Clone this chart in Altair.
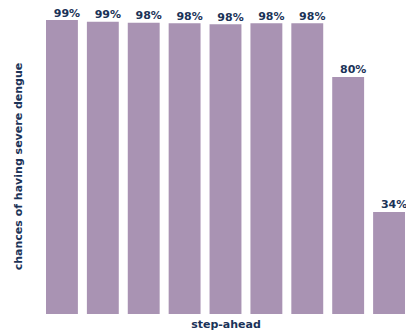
import altair as alt
import pandas as pd

steps = ["1", "2", "3", "4", "5", "6", "7", "8", "9"]
chances = [99.3, 98.7, 98.4, 98.2, 97.9, 98.2, 98.2, 80.1, 34.5]
labels = ["99%", "99%", "98%", "98%", "98%", "98%", "98%", "80%", "34%"]

df = pd.DataFrame({"step": steps, "chance": chances, "label": labels})

FONT = "DejaVu Sans"
NAVY = "#1b3358"
BAR = "#a993b3"

x = alt.X("step:N", sort=steps,
          scale=alt.Scale(paddingInner=0.22, paddingOuter=0.0),
          axis=alt.Axis(title="step-ahead", labels=False, ticks=False, domain=False,
                        titleFont=FONT, titleFontSize=11, titleFontWeight="bold",
                        titleColor=NAVY, titlePadding=4))
y = alt.Y("chance:Q", scale=alt.Scale(domain=[0, 100], nice=False),
          axis=alt.Axis(title="chances of having severe dengue", labels=False, ticks=False,
                        domain=False, grid=False,
                        titleFont=FONT, titleFontSize=11, titleFontWeight="bold",
                        titleColor=NAVY, titlePadding=23))

bars = alt.Chart(df).mark_bar(color=BAR).encode(x=x, y=y)
text = alt.Chart(df).mark_text(
    font=FONT, fontSize=11, fontWeight="bold", color=NAVY,
    baseline="bottom", align="center", dx=5, dy=-1.5
).encode(x=alt.X("step:N", sort=steps), y="chance:Q", text="label:N")

chart = alt.layer(bars, text).properties(
    width=359, height=296,
    padding={"left": 46, "top": 18, "right": 1, "bottom": 20},
    autosize=alt.AutoSizeParams(type="none"),
    background="white",
).configure_view(stroke=None).configure_axis(grid=False)

chart.save("out.html", embed_options={"renderer": "svg", "actions": False})
